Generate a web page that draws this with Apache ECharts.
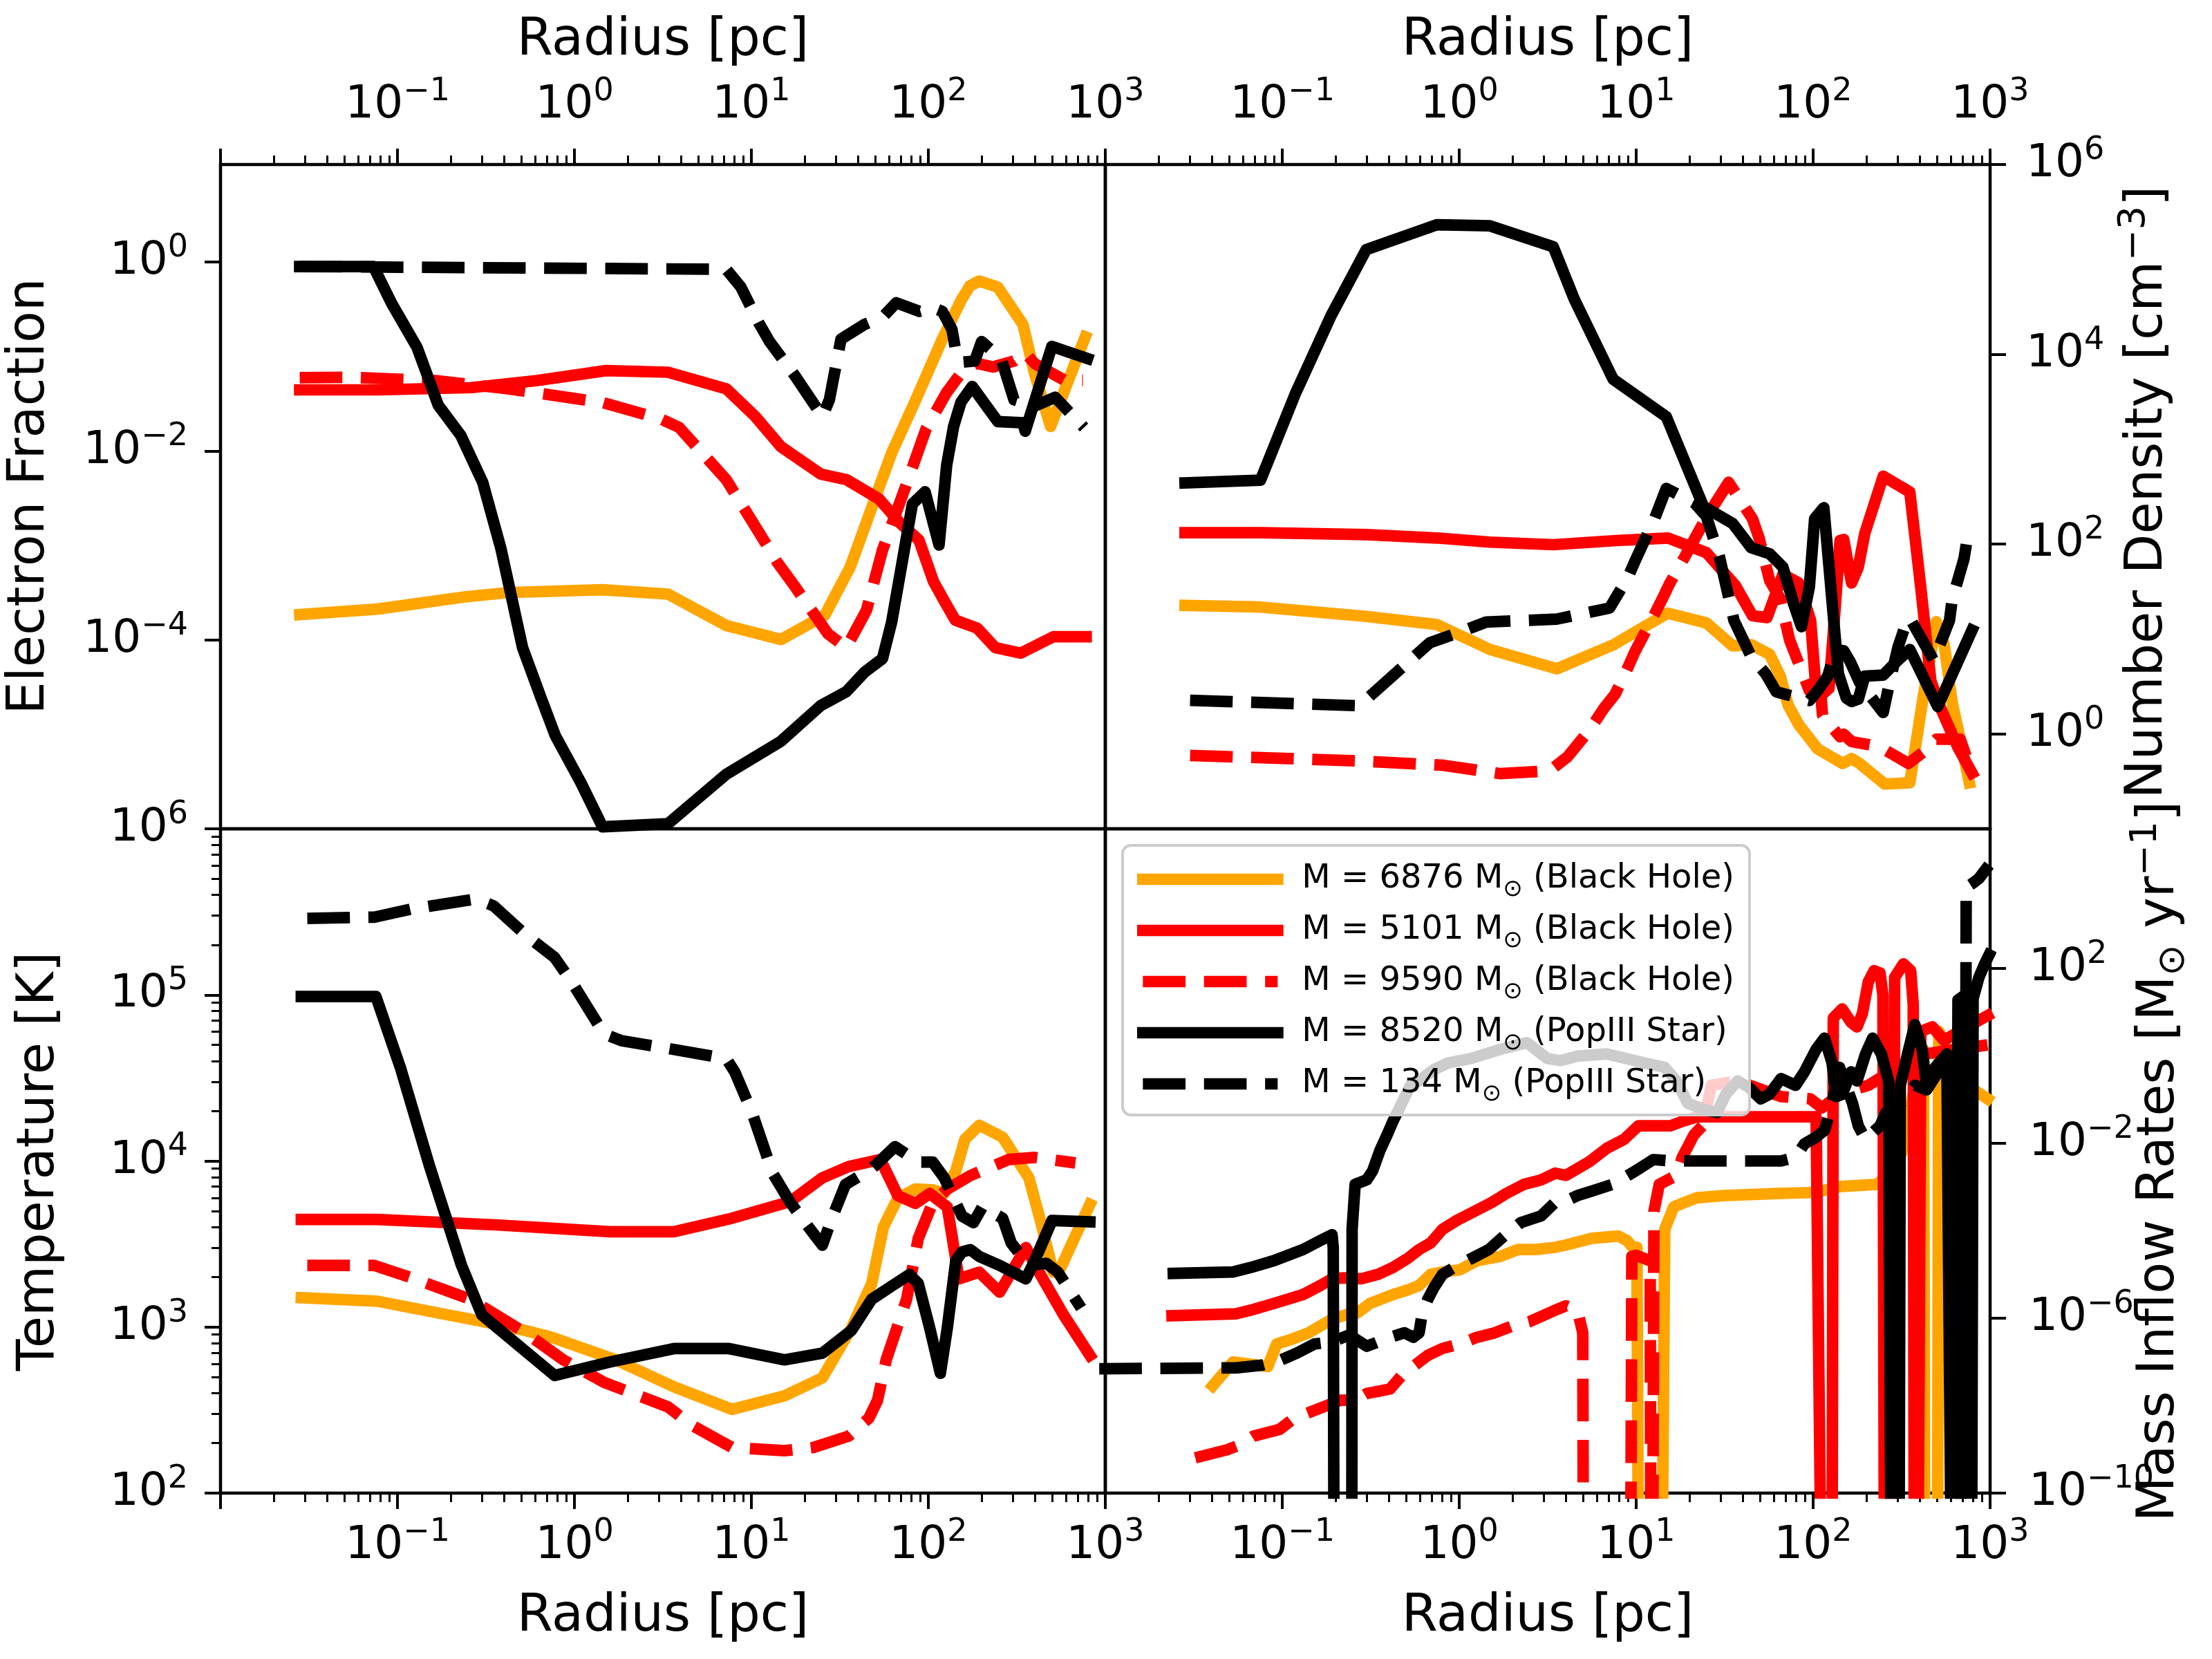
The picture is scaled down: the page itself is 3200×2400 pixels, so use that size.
<!DOCTYPE html>
<html><head><meta charset="utf-8">
<script src="https://cdn.jsdelivr.net/npm/echarts@6/dist/echarts.min.js"></script>
<style>html,body{margin:0;padding:0;background:#fff}#chart{width:3200px;height:2400px}</style>
</head><body><div id="chart"></div>
<script>
// ---------------- data ----------------
const seriesNames = ['M = 6876 M⊙ (Black Hole)','M = 5101 M⊙ (Black Hole)','M = 9590 M⊙ (Black Hole)','M = 8520 M⊙ (PopIII Star)','M = 134 M⊙ (PopIII Star)'];
const seriesColors = ['#ffa500','#ff0000','#ff0000','#000000','#000000'];
const seriesDashed = [false,false,true,false,true];

const radiusLabels = [0.1, 1, 10, 100, 1000];
const radiusMajorTicks = [0.01, 0.1, 1, 10, 100, 1000];
const minorFactors = [2,3,4,5,6,7,8,9];
const efLabels = [1e-4, 1e-2, 1];
const ndLabels = [1, 1e2, 1e4, 1e6];
const tempLabels = [1e2, 1e3, 1e4, 1e5, 1e6];
const mdotLabels = [1e-10, 1e-6, 1e-2, 1e2];

// Electron fraction
const ef6876 = [[0.028,1.85e-4],[0.077,2.12e-4],[0.24,2.85e-4],[0.42,3.17e-4],[1.44,3.40e-4],[3.38,3.05e-4],[7.21,1.42e-4],[14.7,1.01e-4],[26,1.82e-4],[36.2,5.93e-4],[50.4,3.28e-3],[62.1,9.55e-3],[83.8,0.0329],[120,0.153],[153,0.393],[172,0.561],[194,0.631],[247,0.544],[343,0.218],[398,0.0668],[491,0.0182],[771,0.162]];
const ef5101 = [[0.028,0.0444],[0.077,0.0444],[0.262,0.0469],[0.615,0.0557],[1.51,0.0710],[3.38,0.0682],[7.21,0.0456],[10.5,0.0233],[14.7,0.0111],[24.7,5.69e-3],[34.4,4.98e-3],[52.6,3.11e-3],[69.8,1.70e-3],[88.5,1.14e-3],[107,4.15e-4],[123,2.59e-4],[142,1.62e-4],[189,1.33e-4],[239,8.28e-5],[333,7.24e-5],[509,1.08e-4],[780,1.08e-4]];
const ef9590 = [[0.028,0.0597],[0.0525,0.0604],[0.164,0.0557],[0.421,0.0456],[1.44,0.0326],[3.08,0.0218],[3.90,0.0178],[7.21,4.98e-3],[11.0,1.39e-3],[14.0,6.64e-4],[17.7,3.63e-4],[27.1,1.16e-4],[34.4,8.28e-5],[44.7,2.05e-4],[55.1,8.95e-4],[74.3,4.16e-3],[97.2,0.0172],[127,0.0417],[153,0.0668],[188,0.0847],[232,0.0776],[305,0.0897],[353,0.110],[398,0.0847],[589,0.0560],[748,0.056]];
const ef8520 = [[0.028,0.898],[0.0731,0.898],[0.0927,0.365],[0.129,0.125],[0.17,0.0305],[0.228,0.0146],[0.303,4.66e-3],[0.384,9.29e-4],[0.509,8.28e-5],[0.645,2.48e-5],[0.78,9.66e-6],[1.086,3.09e-6],[1.44,1.05e-6],[3.38,1.13e-6],[7.21,3.78e-6],[14.7,8.45e-6],[24.7,2.02e-5],[34.4,2.83e-5],[43.5,4.53e-5],[55.1,6.34e-5],[62.1,1.55e-4],[81.3,2.75e-3],[95.9,3.70e-3],[115,1.01e-3],[127,7.08e-3],[139,0.0182],[153,0.0329],[177,0.0483],[247,0.0205],[343,0.0199],[353,0.0162],[499,0.128],[794,0.0953]];
const ef134 = [[0.028,0.898],[7.21,0.840],[8.71,0.547],[11.0,0.228],[12.7,0.143],[17.6,0.063],[25.2,0.0231],[27.6,0.0349],[32.1,0.153],[43.4,0.218],[55.1,0.261],[65.9,0.371],[88.9,0.301],[106,0.330],[120,0.301],[136,0.194],[144,0.107],[157,0.0873],[183,0.0897],[200,0.144],[258,0.0953],[305,0.0349],[400,0.030],[521,0.037],[759,0.0177]];

// Number density [cm^-3]
const nd6876 = [[0.0282,22.6],[0.0753,21.7],[0.298,17.3],[0.747,14.2],[1.49,7.76],[3.56,4.85],[7.46,8.71],[10.9,13.2],[15.1,18.7],[24.9,14.8],[35.1,8.46],[44.7,8.71],[56.8,6.88],[65.2,4.06],[72.3,2.00],[83.0,1.25],[106,0.695],[147,0.488],[165,0.548],[183,0.488],[254,0.296],[352,0.305],[418,2.39],[497,15.2],[551,8.71],[611,2.12],[678,0.879],[764,0.305]];
const nd5101 = [[0.0282,132],[0.0753,132],[0.298,126],[0.747,116],[1.49,105],[3.40,98.6],[7.71,109],[15.1,116],[24.9,81.5],[36.3,36.8],[45.4,17.6],[54.9,16.8],[67.5,48.0],[83.0,39.0],[96.8,15.7],[104,2.85],[113,2.61],[123,3.02],[132,16.6],[142,109],[149,112],[165,39.0],[180,57.2],[196,130],[249,519],[352,354],[404,37.9],[463,3.61],[532,1.78],[655,0.736],[791,0.386]];
const nd9590 = [[0.0301,0.593],[0.272,0.519],[0.819,0.466],[1.71,0.381],[3.24,0.408],[4.08,0.570],[5.47,1.11],[6.61,1.89],[7.59,2.61],[8.85,4.70],[9.82,7.30],[12.7,18.2],[14.4,29.1],[15.4,37.9],[18.9,74.5],[21.3,112],[24.9,191],[33.3,448],[45.4,185],[49.5,116],[56.8,41.4],[65.2,26.6],[73.6,9.80],[80.2,6.49],[95.3,2.85],[111,2.39],[113,1.58],[121,1.33],[142,0.931],[149,0.989],[165,0.829],[217,0.758],[249,0.695],[346,0.488],[425,0.655],[497,0.879],[678,0.879],[791,0.386]];
const nd8520 = [[0.0282,442],[0.0753,472],[0.119,3.92e3],[0.1885,2.55e4],[0.298,1.27e5],[0.747,2.32e5],[1.49,2.26e5],[3.40,1.36e5],[4.47,3.81e4],[7.41,5.47e3],[14.8,2.20e3],[24.0,249],[35.1,165],[44.7,91.6],[56.8,79.1],[67.5,57.2],[77.5,23.7],[85.9,13.5],[95.3,35.7],[102,185],[115,242],[139,4.30],[154,2.39],[165,2.19],[180,2.32],[196,4.06],[249,4.17],[296,5.77],[352,7.74],[506,1.94],[791,12.4]];
const nd134 = [[0.0301,2.26],[0.272,1.98],[0.681,9.11],[0.983,11.6],[1.42,15.1],[3.56,16.2],[7.08,21.2],[9.01,45.2],[9.99,70.3],[12.7,185],[14.8,386],[21.3,272],[24.9,197],[29.5,74.5],[35.7,15.7],[44.7,6.49],[54.0,4.30],[61.9,2.77],[95.3,2.25],[106,2.85],[121,4.06],[134,7.74],[149,7.52],[162,5.77],[183,3.50],[249,1.68],[267,3.11],[302,8.21],[334,14.4],[352,16.6],[448,7.52],[480,5.94],[590,15.7],[611,25.9],[713,70.3],[740,109],[804,115]];

// Temperature [K]
const temp6876 = [[0.0286,1.50e3],[0.0767,1.43e3],[0.30,1.08e3],[0.529,951],[0.744,866],[1.71,634],[3.65,436],[7.78,319],[15.4,385],[25.2,494],[36.7,982],[47.9,1.83e3],[55.7,3.99e3],[67.3,5.98e3],[84.5,6.77e3],[106,6.7e3],[123,6.37e3],[143,8.70e3],[161,1.35e4],[194,1.64e4],[263,1.39e4],[370,7.92e3],[430,4.38e3],[508,2.14e3],[561,2.28e3],[819,5.48e3]];
const temp5101 = [[0.0286,4.44e3],[0.0767,4.44e3],[0.376,4.11e3],[1.585,3.75e3],[3.65,3.75e3],[7.78,4.52e3],[16.6,5.69e3],[25.2,7.92e3],[35.4,9.25e3],[53.6,1.02e4],[67.3,6.17e3],[84.5,5.55e3],[102,6.37e3],[128,5.28e3],[149,1.95e3],[194,2.14e3],[253,1.62e3],[356,3.01e3],[430,2.07e3],[582,1.18e3],[819,675]];
const temp9590 = [[0.0309,2.35e3],[0.0739,2.35e3],[0.1164,2.0e3],[0.258,1.47e3],[0.529,922],[0.865,634],[1.47,464],[3.38,330],[4.58,257],[7.78,188],[15.4,180],[22.4,188],[35.4,220],[46.1,282],[51.6,361],[57.8,634],[75.4,1.47e3],[87.7,3.41e3],[106,5.62e3],[128,6.77e3],[173,8.17e3],[284,1.02e4],[399,1.05e4],[678,9.73e3]];
const temp8520 = [[0.0286,9.78e4],[0.0755,9.78e4],[0.1038,3.65e4],[0.152,9.25e3],[0.23,2.35e3],[0.30,1.18e3],[0.773,510],[1.585,615],[3.65,741],[7.48,741],[15.4,634],[25.2,696],[36.7,951],[47.9,1.47e3],[62.4,1.77e3],[78.3,2.07e3],[87.7,1.83e3],[102,982],[117,526],[128,982],[143,2.50e3],[155,2.83e3],[173,2.92e3],[194,2.66e3],[253,2.35e3],[356,1.95e3],[399,2.50e3],[500,4.38e3],[819,4.30e3]];
const temp134 = [[0.0309,2.89e5],[0.0739,2.94e5],[0.121,3.30e5],[0.278,3.78e5],[0.349,3.44e5],[0.529,2.30e5],[0.773,1.68e5],[0.969,1.19e5],[1.47,5.82e4],[1.845,5.30e4],[3.13,4.83e4],[7.21,4.13e4],[8.07,3.43e4],[10.1,1.95e4],[13.2,8.43e3],[16.6,5.62e3],[20.8,4.06e3],[25.2,3.11e3],[28.2,4.38e3],[34.0,7.21e3],[47.9,8.97e3],[64.8,1.22e4],[87.7,9.85e3],[106,9.85e3],[123,7.92e3],[155,4.66e3],[180,4.25e3],[202,5.28e3],[263,4.52e3],[294,3.21e3],[370,2.35e3],[464,2.42e3],[540,2.14e3],[731,1.30e3]];

// Mass inflow rate [Msun/yr]; 1e-12 marks non-positive values (below the axis)
const mdot6876 = [[0.0404,2.84e-8],[0.0526,9.96e-8],[0.0828,7.85e-8],[0.0929,2.57e-7],[0.112,3.25e-7],[0.141,4.64e-7],[0.164,6.62e-7],[0.191,9.45e-7],[0.230,1.20e-6],[0.268,1.35e-6],[0.312,2.16e-6],[0.363,2.74e-6],[0.422,3.48e-6],[0.510,4.41e-6],[0.593,5.58e-6],[0.690,1.01e-5],[0.804,1.14e-5],[1.008,1.28e-5],[1.26,2.06e-5],[1.71,2.60e-5],[2.15,3.72e-5],[2.70,3.72e-5],[3.49,4.18e-5],[4.01,4.71e-5],[5.63,6.71e-5],[7.92,7.57e-5],[8.87,5.97e-5],[9.57,4.18e-5],[10.1,4.18e-5],[10.3,1e-12],[14.0,1e-12],[14.5,1.08e-4],[16.3,3.52e-4],[18.9,4.47e-4],[22.0,5.66e-4],[30.9,6.38e-4],[65.9,7.18e-4],[104,7.53e-4],[141,1.02e-3],[230,1.15e-3],[278,2.35e-3],[317,6.05e-3],[376,0.212],[421,1.41],[428,1e-12],[505,1e-12],[513,3.63],[549,2.26],[593,0.545],[743,0.212],[968,0.104]];
const mdot5101 = [[0.0238,1.14e-6],[0.0547,1.26e-6],[0.0661,1.52e-6],[0.0893,2.16e-6],[0.131,3.48e-6],[0.164,5.58e-6],[0.191,7.96e-6],[0.222,8.35e-6],[0.279,7.96e-6],[0.349,1.01e-5],[0.422,1.44e-5],[0.510,2.31e-5],[0.593,3.72e-5],[0.690,5.30e-5],[0.804,1.08e-4],[0.971,1.73e-4],[1.22,2.78e-4],[1.53,4.47e-4],[1.85,7.18e-4],[2.32,1.15e-3],[2.91,1.46e-3],[3.49,2.08e-3],[4.01,1.85e-3],[5.42,3.77e-3],[6.81,7.67e-3],[8.54,0.0123],[10.3,0.0251],[15.6,0.0251],[18.2,0.0318],[22.0,0.0403],[104,0.0403],[111,1e-12],[128,1e-12],[130,7.38],[146,11.8],[164,5.82],[177,4.60],[190,9.35],[205,49.1],[221,88.9],[239,78.9],[248,24.1],[253,1e-12],[285,1e-12],[289,62.2],[324,127],[356,88.9],[368,15],[373,1e-12],[392,1e-12],[406,3.63],[472,4.60],[549,2.26],[743,4.6],[968,8.31]];
const mdot9590 = [[0.0322,6.4e-10],[0.0488,9.82e-10],[0.0568,1.24e-9],[0.0686,2.00e-9],[0.0964,2.85e-9],[0.112,4.57e-9],[0.136,6.53e-9],[0.170,9.31e-9],[0.213,1.33e-8],[0.258,1.33e-8],[0.300,1.90e-8],[0.349,2.13e-8],[0.406,2.40e-8],[0.473,4.89e-8],[0.550,7.85e-8],[0.665,1.42e-7],[0.804,2.03e-7],[1.008,2.57e-7],[1.26,3.66e-7],[1.59,4.64e-7],[1.99,6.62e-7],[2.50,8.39e-7],[3.49,1.52e-6],[4.01,1.92e-6],[4.66,1.52e-6],[4.99,4.64e-7],[5.03,1e-12],[9.31,1e-12],[9.45,2.60e-5],[9.94,2.75e-5],[12.0,2.06e-5],[12.1,1e-12],[12.4,1e-12],[12.6,2.78e-4],[13.5,1.15e-3],[16.9,1.85e-3],[18.2,4.77e-3],[21.2,0.0156],[23.7,0.0251],[26.6,0.212],[37.4,0.268],[65.9,0.117],[96.4,0.104],[112,0.0647],[141,0.132],[205,0.212],[300,0.545],[438,1.11],[640,1.41],[968,1.78]];
const mdot8520 = [[0.0242,1.06e-5],[0.0526,1.14e-5],[0.0661,1.44e-5],[0.0893,2.06e-5],[0.131,3.72e-5],[0.164,5.97e-5],[0.191,8.11e-5],[0.194,4.18e-5],[0.196,1e-12],[0.247,1e-12],[0.248,1.08e-4],[0.258,1.15e-3],[0.300,1.46e-3],[0.324,2.35e-3],[0.356,6.81e-3],[0.391,0.0156],[0.422,0.0318],[0.473,0.0820],[0.530,0.212],[0.593,0.268],[0.718,0.484],[0.867,0.691],[1.17,0.875],[1.71,1.41],[2.41,2.01],[3.14,0.875],[3.72,0.778],[4.66,0.986],[6.81,1.11],[11.1,0.691],[14.5,0.545],[16.9,0.268],[19.6,0.0820],[24.7,0.0574],[28.7,0.0510],[32.1,0.132],[37.4,0.268],[43.5,0.188],[50.6,0.104],[56.6,0.132],[65.9,0.302],[79.6,0.212],[89.3,0.431],[104,1.41],[116,2.54],[128,0.691],[135,0.117],[146,0.132],[164,0.431],[177,0.268],[198,1.11],[217,2.54],[243,1.11],[267,0.268],[276,1e-12],[306,1e-12],[311,0.212],[342,1.11],[376,5.17],[413,1.41],[438,0.212],[490,0.545],[570,1.11],[604,1e-12],[640,1e-12],[659,19.0],[716,24.1],[743,1e-12],[787,1e-12],[802,20.4],[865,62.2],[933,127],[988,204]];
const mdot134 = [[0.00923,6.98e-8],[0.0547,7.31e-8],[0.0768,8.43e-8],[0.0964,1.07e-7],[0.121,1.60e-7],[0.152,2.57e-7],[0.191,2.89e-7],[0.239,4.12e-7],[0.300,2.28e-7],[0.406,3.66e-7],[0.491,4.64e-7],[0.550,3.66e-7],[0.593,4.64e-7],[0.616,1.20e-6],[0.665,2.74e-6],[0.718,4.95e-6],[0.804,1.01e-5],[0.935,1.44e-5],[1.17,2.31e-5],[1.47,3.72e-5],[1.85,8.51e-5],[2.23,1.54e-4],[2.91,2.20e-4],[3.49,4.47e-4],[3.85,4.47e-4],[4.66,6.38e-4],[5.63,8.08e-4],[7.34,1.15e-3],[9.94,2.35e-3],[12.5,4.24e-3],[15.6,3.95e-3],[65.9,3.95e-3],[79.6,4.77e-3],[89.3,9.72e-3],[104,0.0139],[116,0.0198],[128,0.082],[141,0.545],[167,0.082],[180,0.0251],[198,0.0123],[239,0.0251],[258,0.0510],[300,0.0647],[376,0.212],[438,0.167],[529,0.545],[640,0.875],[686,1e-12],[720,1e-12],[733,7.11e3],[802,9.0e3],[865,1.14e4],[988,2.32e4]];

// ---------------- chart ----------------
const FONT = 'DejaVu Sans';
const LW = 16.7;
const DASH = [61.7, 26.7];
const XMIN = 0.00999, XMAX = 1001;

function minorValues(e0, e1) {
  const out = [];
  for (let e = e0; e < e1; e++) for (const f of minorFactors) out.push(f * Math.pow(10, e));
  return out;
}
const xMinorTicks = minorValues(-2, 3);
const tempMinorTicks = minorValues(2, 6);

function powLabel(v) {
  const e = Math.round(Math.log10(v));
  const s = e < 0 ? '\u2212' + (-e) : String(e);
  return '{b|10}{s|' + s + '}';
}
const tickRich = {
  b: {fontFamily: FONT, fontSize: 66, color: '#000', lineHeight: 80},
  s: {fontFamily: FONT, fontSize: 46, color: '#000', lineHeight: 40, padding: [0, 0, 40, 0]}
};

function mainAxisLabel(vals, margin) {
  return {show: true, customValues: vals, formatter: powLabel, margin: margin, color: '#000',
          fontFamily: FONT, fontSize: 66, rich: tickRich, showMinLabel: true, showMaxLabel: true};
}
function xAxesFor(grid, pos) {
  return [
    {type: 'log', logBase: 10, gridIndex: grid, position: pos, min: XMIN, max: XMAX,
     axisLine: {show: false}, splitLine: {show: false}, minorTick: {show: false},
     axisTick: {show: true, inside: false, length: 23, lineStyle: {color: '#000', width: 4}, customValues: radiusMajorTicks},
     axisLabel: mainAxisLabel(radiusLabels, pos === 'top' ? 45 : 37)},
    {type: 'log', logBase: 10, gridIndex: grid, position: pos, min: XMIN, max: XMAX,
     axisLine: {show: false}, splitLine: {show: false}, minorTick: {show: false},
     axisTick: {show: true, inside: false, length: 13, lineStyle: {color: '#000', width: 3}, customValues: xMinorTicks},
     axisLabel: {show: false}}
  ];
}
function yAxisFor(grid, pos, min, max, vals, margin) {
  return {type: 'log', logBase: 10, gridIndex: grid, position: pos, min: min, max: max,
    axisLine: {show: false}, splitLine: {show: false}, minorTick: {show: false},
    axisTick: {show: true, inside: false, length: 23, lineStyle: {color: '#000', width: 4}, customValues: vals},
    axisLabel: mainAxisLabel(vals, margin)};
}

const xAxis = [].concat(xAxesFor(0, 'top'), xAxesFor(1, 'top'), xAxesFor(2, 'bottom'), xAxesFor(3, 'bottom'));
const yAxis = [
  yAxisFor(0, 'left', 0.999e-6, 10.8, efLabels, 47),
  yAxisFor(1, 'right', 0.0999, 1.001e6, ndLabels, 52),
  yAxisFor(2, 'left', 99.9, 1.001e6, tempLabels, 47),
  {type: 'log', logBase: 10, gridIndex: 2, position: 'left', min: 99.9, max: 1.001e6,
   axisLine: {show: false}, splitLine: {show: false}, minorTick: {show: false},
   axisTick: {show: true, inside: false, length: 13, lineStyle: {color: '#000', width: 3}, customValues: tempMinorTicks},
   axisLabel: {show: false}},
  yAxisFor(3, 'right', 0.999e-10, 1.56e5, mdotLabels, 56)
];

const gridBase = {show: true, borderColor: '#000', borderWidth: 4.5, backgroundColor: 'transparent', containLabel: false, outerBoundsMode: 'none'};
const grid = [
  Object.assign({left: 319, top: 238, width: 1280, height: 961}, gridBase),
  Object.assign({left: 1599, top: 238, width: 1280, height: 961}, gridBase),
  Object.assign({left: 319, top: 1199, width: 1280, height: 961}, gridBase),
  Object.assign({left: 1599, top: 1199, width: 1280, height: 961}, gridBase)
];

const panels = [
  {xi: 0, yi: 0, sets: [ef6876, ef5101, ef9590, ef8520, ef134]},
  {xi: 2, yi: 1, sets: [nd6876, nd5101, nd9590, nd8520, nd134]},
  {xi: 4, yi: 2, sets: [temp6876, temp5101, temp9590, temp8520, temp134]},
  {xi: 6, yi: 4, sets: [mdot6876, mdot5101, mdot9590, mdot8520, mdot134]}
];
const series = [];
panels.forEach(p => {
  p.sets.forEach((d, k) => {
    const dashed = seriesDashed[k];
    series.push({
      type: 'line', name: seriesNames[k], xAxisIndex: p.xi, yAxisIndex: p.yi, data: d,
      symbol: 'none', showSymbol: false, clip: true, silent: true, animation: false,
      lineStyle: {color: seriesColors[k], width: LW, type: dashed ? DASH : 'solid', cap: dashed ? 'butt' : 'square', join: 'round'},
      itemStyle: {color: seriesColors[k]}, emphasis: {disabled: true}
    });
  });
});

const nameRich = {
  s: {fontFamily: FONT, fontSize: 54, fill: '#000', lineHeight: 40, padding: [0, 0, 40, 0]},
  u: {fontFamily: FONT, fontSize: 54, fill: '#000', lineHeight: 40, padding: [40, 0, 0, 0]}
};
function gtext(x, y, rot, text) {
  return {type: 'text', x: x, y: y, rotation: rot, z: 50,
    style: {text: text, fontFamily: FONT, fontSize: 75, fill: '#000', lineHeight: 80,
            align: 'center', verticalAlign: 'middle', rich: nameRich}};
}
const R90 = Math.PI / 2;
const graphic = [
  gtext(959, 60, 0, 'Radius [pc]'),
  gtext(2239, 60, 0, 'Radius [pc]'),
  gtext(959, 2340, 0, 'Radius [pc]'),
  gtext(2239, 2340, 0, 'Radius [pc]'),
  gtext(44, 718, R90, 'Electron Fraction'),
  gtext(58, 1680, R90, 'Temperature [K]'),
  gtext(3108, 712, R90, 'Number Density [cm{s|\u22123}]'),
  gtext(3125, 1680, R90, 'Mass Inflow Rates [M{u|\u2299} yr{s|\u22121}]')
];

const legendRich = {
  gap: {width: 30, fontFamily: FONT, fontSize: 48, lineHeight: 50},
  t: {fontFamily: FONT, fontSize: 48, color: '#000', lineHeight: 50},
  sub: {fontFamily: FONT, fontSize: 34, color: '#000', lineHeight: 20, padding: [30, 0, 0, 0]}
};
function legendLabel(n) {
  const parts = n.split('M\u2299');
  return '{gap|}{t|' + parts[0] + 'M}{sub|\u2299}{t|' + parts[1] + '}';
}

const chart = echarts.init(document.getElementById('chart'), null, {renderer: 'canvas', width: 3200, height: 2400});
chart.setOption({
  animation: false,
  backgroundColor: '#ffffff',
  textStyle: {fontFamily: FONT},
  grid: grid,
  xAxis: xAxis,
  yAxis: yAxis,
  legend: {
    show: true, data: seriesNames, orient: 'vertical', left: 1624, top: 1223,
    padding: [17, 22, 13, 21], itemGap: 10, itemWidth: 195, itemHeight: 17, selectedMode: false,
    backgroundColor: 'rgba(255,255,255,0.8)', borderColor: '#cccccc', borderWidth: 4, borderRadius: 12,
    lineStyle: {width: LW}, z: 20,
    textStyle: {fontFamily: FONT, fontSize: 48, color: '#000', lineHeight: 50, rich: legendRich},
    formatter: legendLabel
  },
  graphic: graphic,
  series: series
});
</script></body></html>
